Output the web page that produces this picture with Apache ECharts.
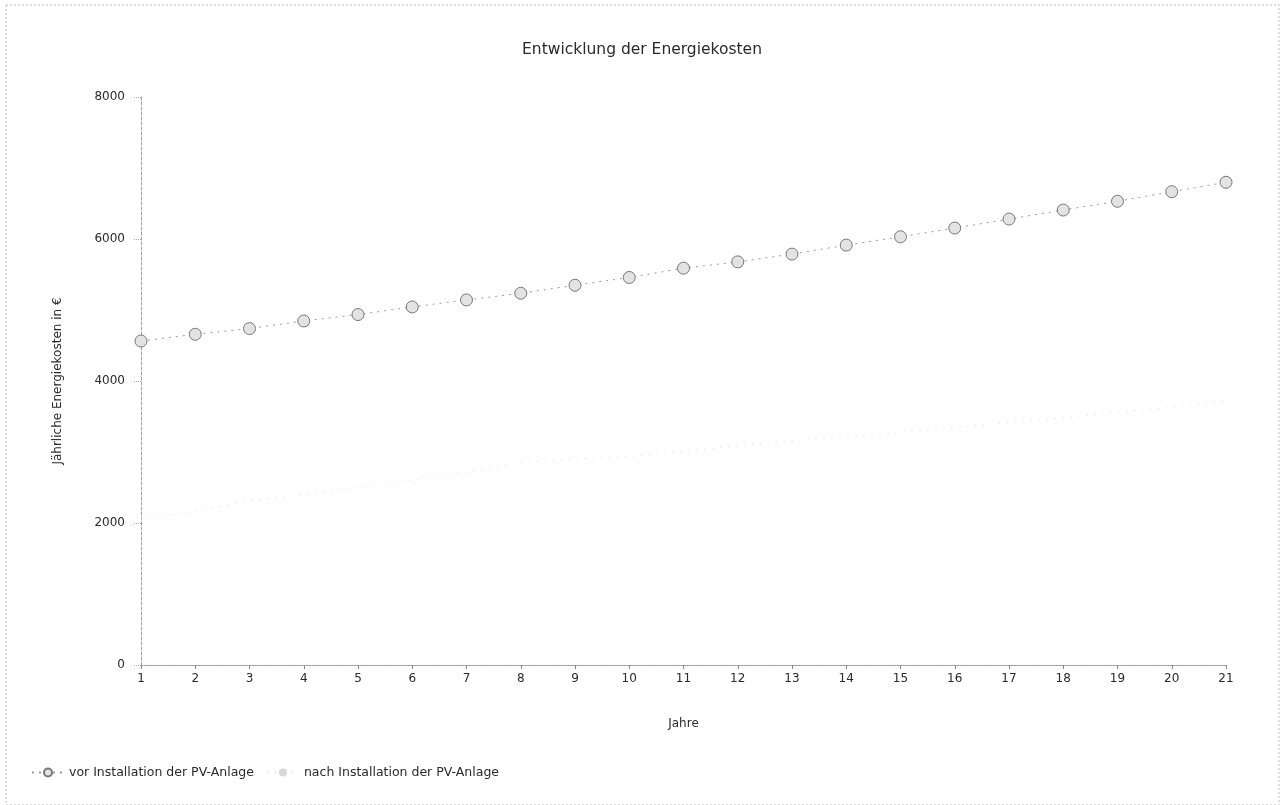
<!DOCTYPE html>
<html>
<head>
<meta charset="utf-8">
<script src="https://cdn.jsdelivr.net/npm/echarts@6/dist/echarts.min.js"></script>
<style>
  html, body { margin: 0; padding: 0; background: #fff; }
  #chart { width: 1284px; height: 805px; }
</style>
</head>
<body>
<div id="chart"></div>
<script>
// Jahre 1..21
const years = ['1','2','3','4','5','6','7','8','9','10','11','12','13','14','15','16','17','18','19','20','21'];

// Jährliche Energiekosten in € vor Installation der PV-Anlage
const kostenVor = [4563, 4658, 4738, 4846, 4936, 5043, 5142, 5236, 5349, 5458, 5589,
                   5678, 5787, 5914, 6031, 6154, 6281, 6408, 6531, 6666, 6799];

// Jährliche Energiekosten in € nach Installation der PV-Anlage
const kostenNach = [2060, 2160, 2315, 2400, 2510, 2600, 2710, 2850, 2900, 2935, 3010,
                    3090, 3160, 3210, 3280, 3340, 3420, 3480, 3560, 3630, 3720];

const seriesNames = ['vor Installation der PV-Anlage', 'nach Installation der PV-Anlage'];
const yTicks = { min: 0, max: 8000, interval: 2000 };

const FONT = 'DejaVu Sans';
const TXT = '#2a2a2a';

const chart = echarts.init(document.getElementById('chart'), null, { renderer: 'canvas' });

chart.setOption({
  backgroundColor: '#ffffff',
  animation: false,
  textStyle: { fontFamily: FONT, color: TXT },
  title: {
    text: 'Entwicklung der Energiekosten',
    left: 'center',
    top: 37,
    textStyle: { fontFamily: FONT, fontSize: 15.5, fontWeight: 'normal', color: TXT }
  },
  graphic: [{
    type: 'rect',
    shape: { x: 6, y: 5, width: 1273, height: 800 },
    style: { fill: 'none', stroke: '#bdbdbd', lineWidth: 1, lineDash: [2, 2] },
    silent: true
  }],
  grid: { left: 141, right: 58, top: 97, bottom: 140, containLabel: false },
  legend: {
    left: 26,
    top: 761,
    itemWidth: 32,
    itemHeight: 10,
    itemGap: 12,
    textStyle: { fontFamily: FONT, fontSize: 12.5, color: TXT },
    data: seriesNames
  },
  xAxis: {
    type: 'category',
    data: years,
    boundaryGap: false,
    name: 'Jahre',
    nameLocation: 'middle',
    nameGap: 53,
    nameTextStyle: { fontFamily: FONT, fontSize: 12, color: TXT },
    axisLine: { show: true, lineStyle: { color: '#9a9a9a', width: 1, type: [2, 1] } },
    axisTick: { show: true, alignWithLabel: true, length: 4, lineStyle: { color: '#888' } },
    axisLabel: { margin: 8, fontFamily: FONT, fontSize: 12, color: TXT },
    splitLine: { show: false }
  },
  yAxis: {
    type: 'value',
    min: yTicks.min,
    max: yTicks.max,
    interval: yTicks.interval,
    name: 'Jährliche Energiekosten in €',
    nameLocation: 'middle',
    nameGap: 77,
    nameRotate: 90,
    nameTextStyle: { fontFamily: FONT, fontSize: 12, color: TXT },
    axisLine: { show: true, lineStyle: { color: '#a0a0a0', width: 1, type: [3, 2] } },
    axisTick: { show: true, length: 7, lineStyle: { color: '#aaa', type: 'dotted' } },
    axisLabel: {
      margin: 16, fontFamily: FONT, fontSize: 12, color: TXT,
      formatter: (v) => String(v)
    },
    splitLine: { show: false }
  },
  series: [
    {
      name: seriesNames[0],
      type: 'line',
      data: kostenVor,
      symbol: 'circle',
      symbolSize: 12,
      showSymbol: true,
      lineStyle: { color: '#9b9b9b', width: 1, type: [2, 5] },
      itemStyle: { color: '#e3e3e3', borderColor: '#777', borderWidth: 1 },
      emphasis: { disabled: true }
    },
    {
      name: seriesNames[1],
      type: 'line',
      data: kostenNach,
      symbol: 'none',
      showSymbol: false,
      lineStyle: { color: '#dcdcdc', width: 1, type: [1, 7] },
      itemStyle: { color: '#d8d8d8' },
      emphasis: { disabled: true }
    }
  ]
});
</script>
</body>
</html>
